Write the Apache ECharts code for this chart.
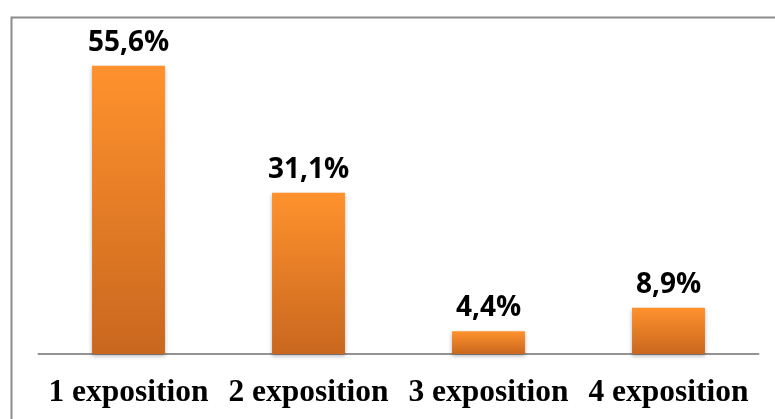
<!DOCTYPE html>
<html>
<head>
<meta charset="utf-8">
<script src="https://cdn.jsdelivr.net/npm/echarts@6/dist/echarts.min.js"></script>
<style>html,body{margin:0;padding:0;background:#fff}#c{width:775px;height:419px}</style>
</head>
<body>
<div id="c"></div>
<script>
const categories = ['1 exposition', '2 exposition', '3 exposition', '4 exposition'];
const values = [55.6, 31.1, 4.4, 8.9];

const chart = echarts.init(document.getElementById('c'), null, {renderer: 'canvas'});
chart.setOption({
  animation: false,
  backgroundColor: '#fff',
  graphic: [{
    type: 'rect', left: 9, top: 15, z: 100,
    shape: {x: 0, y: 0, width: 820, height: 480},
    style: {fill: 'none', stroke: '#8c8c8c', lineWidth: 2}
  }],
  grid: {left: 38.5, right: 16.5, top: 43, bottom: 65, containLabel: false},
  xAxis: {
    type: 'category', data: categories,
    axisLine: {lineStyle: {color: '#939393', width: 2}},
    axisTick: {show: false},
    axisLabel: {
      margin: 23, color: '#000', fontFamily: 'Liberation Serif', fontWeight: 'bold', fontSize: 31.5,
      interval: 0
    }
  },
  yAxis: {
    type: 'value', min: 0, max: 60, show: false, splitLine: {show: false}
  },
  series: [{
    type: 'bar', data: values, barWidth: '40.5%',
    itemStyle: {
      color: new echarts.graphic.LinearGradient(0, 0, 0, 1, [
        {offset: 0, color: '#FF922D'},
        {offset: 1, color: '#C9671F'}
      ]),
      shadowColor: 'rgba(0,0,0,0.3)', shadowBlur: 4, shadowOffsetY: 2
    },
    label: {
      show: true, position: 'top', distance: 9,
      formatter: p => String(p.value).replace('.', ',') + '%',
      color: '#000', fontFamily: 'Open Sans', fontWeight: 'bold', fontSize: 28
    }
  }]
});
</script>
</body>
</html>
